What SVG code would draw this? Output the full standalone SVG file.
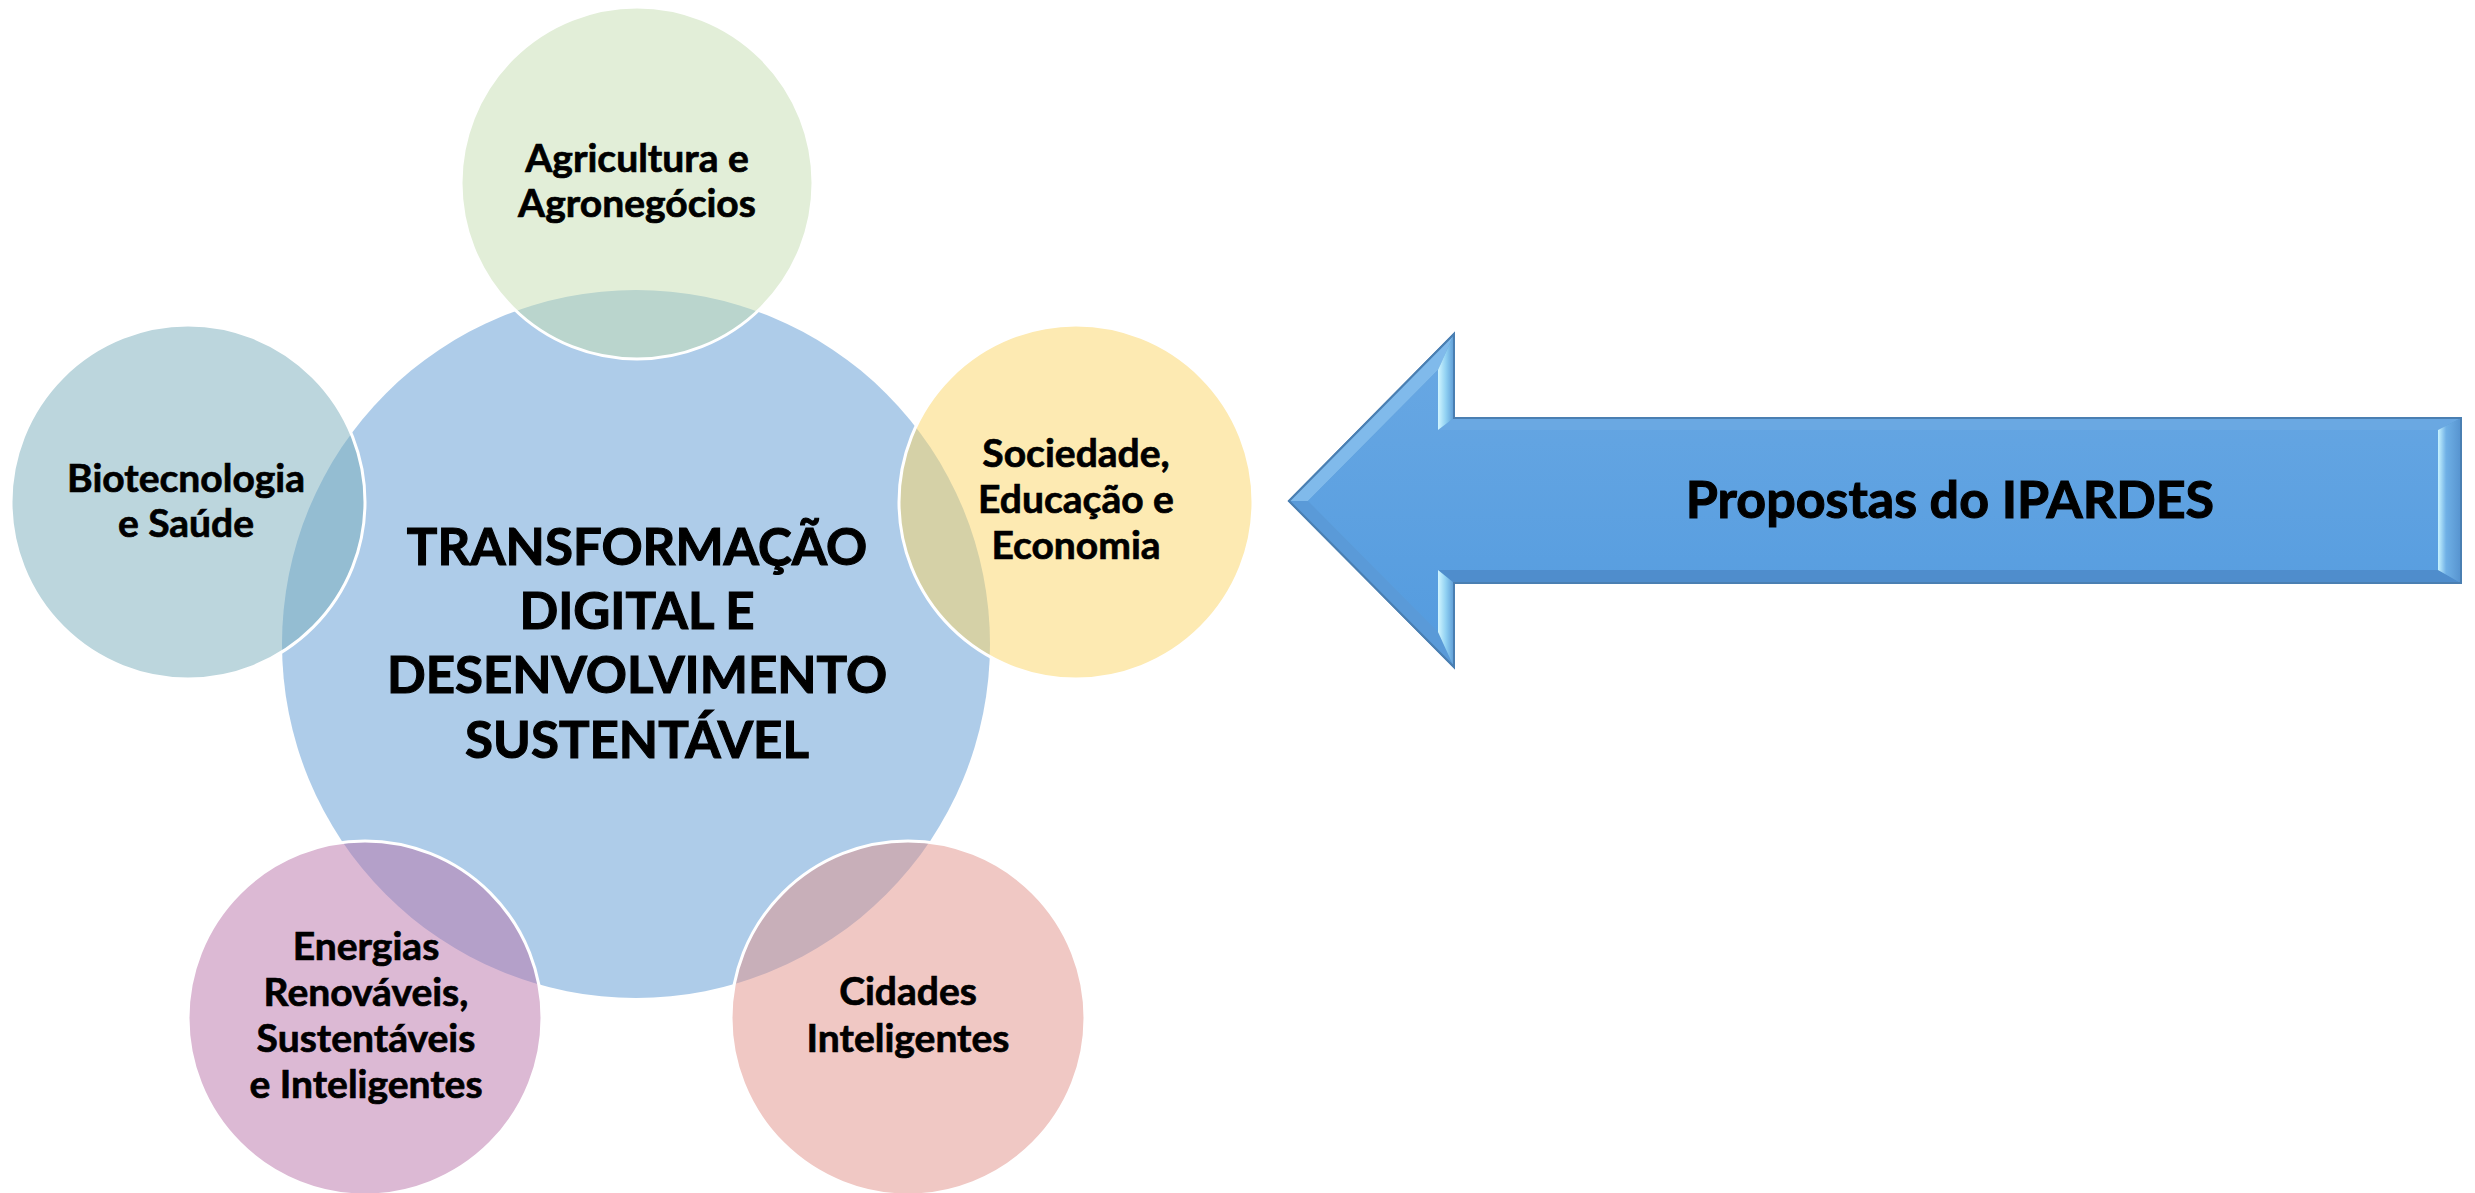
<svg xmlns="http://www.w3.org/2000/svg" width="2475" height="1193" viewBox="0 0 2475 1193">
  <defs>
    <style>
      .t { font-family: Lato, "Open Sans", "Liberation Sans", sans-serif; font-weight: 700; fill: #000; stroke: #000; text-anchor: middle; }
      .big { font-size: 51px; stroke-width: 1.1; }
      .arr { font-size: 52px; stroke-width: 1.1; }
      .mid { font-size: 39px; stroke-width: 0.7; }
      .sat { fill-opacity: 0.5; stroke: #ffffff; stroke-width: 3; }
    </style>
    <linearGradient id="body" x1="0" y1="0" x2="0" y2="1">
      <stop offset="0" stop-color="#67a7e3"/>
      <stop offset="1" stop-color="#559cdf"/>
    </linearGradient>
    <linearGradient id="vfacet" x1="0" y1="0" x2="1" y2="0">
      <stop offset="0" stop-color="#d2f6ff"/>
      <stop offset="0.5" stop-color="#8fd0f2"/>
      <stop offset="1" stop-color="#5d9bd6"/>
    </linearGradient>
    <linearGradient id="rfacet" x1="0" y1="0" x2="1" y2="0">
      <stop offset="0" stop-color="#c8f4ff"/>
      <stop offset="0.35" stop-color="#6fb0e6"/>
      <stop offset="1" stop-color="#5693cf"/>
    </linearGradient>
  </defs>

  <g id="center-node">
    <circle cx="636" cy="644" r="354" fill="#aecce9"/>
  </g>

  <g id="node-agricultura">
    <circle class="sat" cx="637" cy="183" r="176" fill="#c5ddb1"/>
    <text class="t mid" x="637" y="172">Agricultura e</text>
    <text class="t mid" x="637" y="217">Agronegócios</text>
  </g>

  <g id="node-biotecnologia">
    <circle class="sat" cx="188" cy="502" r="177" fill="#79adbb"/>
    <text class="t mid" x="186" y="492">Biotecnologia</text>
    <text class="t mid" x="186" y="537">e Saúde</text>
  </g>

  <g id="node-sociedade">
    <circle class="sat" cx="1076" cy="502" r="177" fill="#fbd565"/>
    <text class="t mid" x="1076" y="467">Sociedade,</text>
    <text class="t mid" x="1076" y="513">Educação e</text>
    <text class="t mid" x="1076" y="559">Economia</text>
  </g>

  <g id="node-energias">
    <circle class="sat" cx="365" cy="1018" r="177" fill="#b973a9"/>
    <text class="t mid" x="366" y="960">Energias</text>
    <text class="t mid" x="366" y="1006">Renováveis,</text>
    <text class="t mid" x="366" y="1052">Sustentáveis</text>
    <text class="t mid" x="366" y="1098">e Inteligentes</text>
  </g>

  <g id="node-cidades">
    <circle class="sat" cx="908" cy="1018" r="177" fill="#e19189"/>
    <text class="t mid" x="908" y="1005">Cidades</text>
    <text class="t mid" x="908" y="1052">Inteligentes</text>
  </g>

  <g id="center-label">
    <text class="t big" x="637" y="565">TRANSFORMAÇÃO</text>
    <text class="t big" x="637" y="629">DIGITAL E</text>
    <text class="t big" x="637" y="693">DESENVOLVIMENTO</text>
    <text class="t big" x="637" y="758">SUSTENTÁVEL</text>
  </g>

  <g id="connectors">
    <g id="arrow-propostas">
      <polygon points="1289,501 1454,334 1454,418 2461,418 2461,583 1454,583 1454,667" fill="#5b9bd5" stroke="#4a7fb2" stroke-width="2"/>
      <polygon points="1289,501 1454,334 1438,370 1308,501" fill="#80baeb"/>
      <polygon points="1289,501 1308,501 1438,632 1454,667" fill="#5a9ad8"/>
      <polygon points="1454,418 2461,418 2438,430 1438,430" fill="#6aa8e2"/>
      <polygon points="1454,583 2461,583 2438,570 1438,570" fill="#4f8dcc"/>
      <polygon points="1438,370 1454,334 1454,418 1438,430" fill="url(#vfacet)"/>
      <polygon points="1438,570 1454,583 1454,667 1438,632" fill="url(#vfacet)"/>
      <polygon points="2438,430 2461,418 2461,583 2438,570" fill="url(#rfacet)"/>
      <polygon points="1308,501 1438,370 1438,430 2438,430 2438,570 1438,570 1438,632" fill="url(#body)"/>
      <polygon points="1289,501 1454,334 1454,418 2461,418 2461,583 1454,583 1454,667" fill="none" stroke="#4a7fb2" stroke-width="2"/>
      <text class="t arr" x="1950" y="518">Propostas do IPARDES</text>
    </g>
  </g>
</svg>
